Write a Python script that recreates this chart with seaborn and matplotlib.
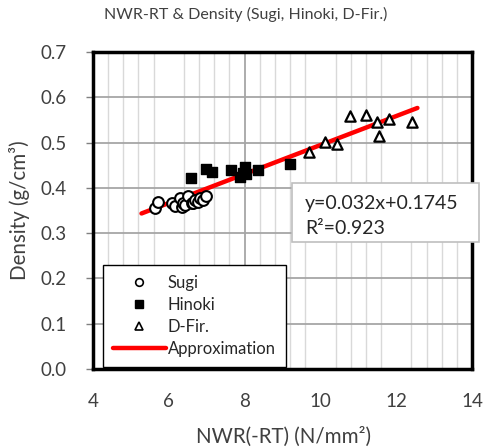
import numpy as np
import pandas as pd
import matplotlib
matplotlib.use("Agg")
import matplotlib.pyplot as plt
import seaborn as sns
from matplotlib.ticker import MultipleLocator
from matplotlib.lines import Line2D
from matplotlib.patches import Rectangle

# ---- data ----
sugi_x = [5.64, 5.72, 6.08, 6.16, 6.30, 6.34, 6.38, 6.43, 6.51, 6.60, 6.65, 6.69, 6.78, 6.82, 6.91, 6.98]
sugi_y = [0.355, 0.369, 0.366, 0.360, 0.377, 0.358, 0.366, 0.362, 0.381, 0.366, 0.367, 0.373, 0.369, 0.377, 0.373, 0.381]

hinoki_x = [6.58, 6.97, 7.15, 7.64, 7.88, 7.95, 8.01, 8.05, 8.36, 9.20]
hinoki_y = [0.421, 0.441, 0.436, 0.439, 0.425, 0.432, 0.447, 0.430, 0.439, 0.452]

dfir_x = [9.70, 10.12, 10.45, 10.78, 11.20, 11.49, 11.54, 11.82, 12.41]
dfir_y = [0.480, 0.502, 0.497, 0.559, 0.561, 0.546, 0.514, 0.553, 0.546]

fit_slope = 0.032
fit_intercept = 0.1745
fit_r2 = 0.923
fit_x = [5.28, 12.56]
fit_y = [fit_slope * v + fit_intercept for v in fit_x]

x_ticks = [4, 6, 8, 10, 12, 14]
y_ticks = [0.0, 0.1, 0.2, 0.3, 0.4, 0.5, 0.6, 0.7]
emphasized_grid_x = 8

title = "NWR-RT & Density (Sugi, Hinoki, D-Fir.)"
xlabel = "NWR(-RT) (N/mm²)"
ylabel = "Density (g/cm³)"
legend_labels = ["Sugi", "Hinoki", "D-Fir.", "Approximation"]

# ---- style ----
sns.set_theme(style="white")
plt.rcParams["font.family"] = ["Lato", "DejaVu Sans"]
text_color = "#404040"

W, H = 486, 447
fig = plt.figure(figsize=(W / 100, H / 100), dpi=100)
L, R, T, B = 93, 472, 52, 369
ax = fig.add_axes([L / W, 1 - B / H, (R - L) / W, (B - T) / H])

# grid
ax.set_axisbelow(True)
ax.xaxis.set_minor_locator(MultipleLocator(0.4))
ax.grid(which="minor", axis="x", color="#d9d9d9", linewidth=1.0)
ax.grid(which="major", axis="y", color="#a6a6a6", linewidth=1.3)
ax.grid(which="major", axis="x", visible=False)
ax.axvline(emphasized_grid_x, color="#a6a6a6", linewidth=1.3, zorder=0.5)

# fit line
sns.lineplot(x=fit_x, y=fit_y, color="#ff0000", linewidth=3.2, ax=ax, zorder=2, legend=False)

# scatter
sns.scatterplot(x=sugi_x, y=sugi_y, marker="o", s=60, color="white",
                edgecolor="black", linewidth=1.5, ax=ax, zorder=3)
sns.scatterplot(x=hinoki_x, y=hinoki_y, marker="s", s=60, color="black",
                edgecolor="black", linewidth=1.0, ax=ax, zorder=4)
sns.scatterplot(x=dfir_x, y=dfir_y, marker="^", s=55, color="white",
                edgecolor="black", linewidth=1.6, ax=ax, zorder=4)

ax.set_xlim(x_ticks[0], x_ticks[-1])
ax.set_ylim(y_ticks[0], y_ticks[-1])
ax.set_xticks(x_ticks)
ax.set_yticks(y_ticks)
ax.set_xticklabels([str(v) for v in x_ticks])
ax.set_yticklabels([f"{v:.1f}" for v in y_ticks])
ax.tick_params(axis="y", which="major", direction="out", length=5, width=1,
               color="#808080", pad=14, labelsize=13.5, labelcolor=text_color, left=True)
ax.tick_params(axis="x", which="both", length=0, pad=17, labelsize=13.5, labelcolor=text_color)

for s in ax.spines.values():
    s.set_color("black")
    s.set_linewidth(2.5)
    s.set_visible(True)

fig.text(246 / W, 1 - 14 / H, title, ha="center", va="center", fontsize=11.5, color=text_color)
fig.text(283 / W, 1 - 437 / H, xlabel, ha="center", va="center", fontsize=14.8, color=text_color)
fig.text(20 / W, 1 - 210 / H, ylabel, ha="center", va="center", rotation=90, fontsize=14.8, color=text_color)

# legend
handles = [
    Line2D([], [], marker="o", ls="none", mfc="white", mec="black", ms=5.5, mew=1.2),
    Line2D([], [], marker="s", ls="none", mfc="black", mec="black", ms=5.5, mew=1.0),
    Line2D([], [], marker="^", ls="none", mfc="white", mec="black", ms=5.5, mew=1.2),
    Line2D([], [], color="#ff0000", lw=3.2),
]
leg = ax.legend(handles, legend_labels, loc="lower left",
                bbox_to_anchor=((102.7 - L) / (R - L), (B - 366.7) / (B - T)),
                frameon=True, fancybox=False, edgecolor="black", framealpha=1,
                fontsize=12, borderpad=0.6, handlelength=3.2, handletextpad=0.1,
                labelspacing=0.35, borderaxespad=0)
leg.get_frame().set_linewidth(1.0)
for t in leg.get_texts():
    t.set_color("#262626")
leg.set_zorder(6)

# equation box
rx0, rx1 = (291.7 - L) / (R - L), (479 - L) / (R - L)
ry0, ry1 = (B - 241.7) / (B - T), (B - 183.3) / (B - T)
ax.add_patch(Rectangle((rx0, ry0), rx1 - rx0, ry1 - ry0, transform=ax.transAxes,
                       facecolor="white", edgecolor="#bfbfbf", linewidth=1.2,
                       clip_on=False, zorder=7))
ax.text((305 - L) / (R - L), (B - 204) / (B - T),
        f"y={fit_slope}x+{fit_intercept}", transform=ax.transAxes,
        ha="left", va="center", fontsize=14, color="#262626", zorder=8)
ax.text((305 - L) / (R - L), (B - 228) / (B - T),
        f"R²={fit_r2}", transform=ax.transAxes,
        ha="left", va="center", fontsize=14, color="#262626", zorder=8)

ax.set_xlabel("")
ax.set_ylabel("")
fig.savefig("out.png", dpi=100)
